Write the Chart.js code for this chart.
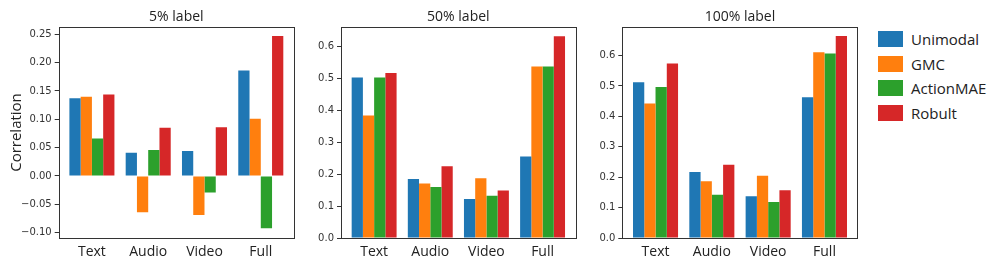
<!DOCTYPE html>
<html>
<head>
<meta charset="utf-8">
<script src="https://cdn.jsdelivr.net/npm/chart.js@4/dist/chart.umd.min.js"></script>
<style>
  body { margin: 0; background: #fff; }
  #wrap { position: relative; width: 997px; height: 272px; overflow: hidden; }
  .panel { position: absolute; top: 0; height: 272px; }
  .legend { position: absolute; left: 878px; top: 31px; font-family: 'Open Sans', sans-serif; font-size: 15px; color: #222; }
  .legend .row { display: flex; align-items: center; height: 16px; margin-bottom: 8.7px; }
  .legend .box { width: 25px; height: 16px; margin-right: 8px; }
</style>
</head>
<body>
<div id="wrap">
  <div class="panel" style="left:0;width:300px"><canvas id="c1"></canvas></div>
  <div class="panel" style="left:300px;width:290px"><canvas id="c2"></canvas></div>
  <div class="panel" style="left:590px;width:280px"><canvas id="c3"></canvas></div>
  <div class="legend" id="legend"></div>
</div>
<script>
// --- data ---
const categories = ['Text', 'Audio', 'Video', 'Full'];
const seriesNames = ['Unimodal', 'GMC', 'ActionMAE', 'Robult'];
const seriesColors = ['#1f77b4', '#ff7f0e', '#2ca02c', '#d62728'];

// 5% label
const unimodal5 = [0.137, 0.041, 0.044, 0.186];
const gmc5 = [0.140, -0.064, -0.069, 0.101];
const actionmae5 = [0.066, 0.046, -0.029, -0.092];
const robult5 = [0.144, 0.085, 0.086, 0.247];

// 50% label
const unimodal50 = [0.503, 0.185, 0.122, 0.255];
const gmc50 = [0.384, 0.171, 0.187, 0.537];
const actionmae50 = [0.503, 0.160, 0.132, 0.537];
const robult50 = [0.517, 0.225, 0.149, 0.632];

// 100% label
const unimodal100 = [0.512, 0.217, 0.137, 0.463];
const gmc100 = [0.442, 0.187, 0.205, 0.611];
const actionmae100 = [0.497, 0.142, 0.118, 0.607];
const robult100 = [0.574, 0.241, 0.157, 0.664];

const panelTitles = ['5% label', '50% label', '100% label'];

/* --- helpers --- */
const frameAndTitle = {
    id: 'frameAndTitle',
    afterDraw(chart) {
        const a = chart.chartArea;
        const ctx = chart.ctx;
        ctx.save();
        ctx.strokeStyle = '#333';
        ctx.lineWidth = 1;
        ctx.strokeRect(Math.round(a.left) + 0.5, Math.round(a.top) + 0.5,
            Math.round(a.right - a.left), Math.round(a.bottom - a.top));
        ctx.fillStyle = '#222';
        ctx.font = "14px 'Open Sans'";
        ctx.textAlign = 'center';
        ctx.textBaseline = 'alphabetic';
        ctx.fillText(chart.options.panelTitle, (a.left + a.right) / 2, a.top - 6);
        if (chart.options.yLabel) {
            ctx.translate(17, (a.top + a.bottom) / 2);
            ctx.rotate(-Math.PI / 2);
            ctx.textBaseline = 'middle';
            ctx.font = "15px 'Open Sans'";
            ctx.fillText(chart.options.yLabel, 0, 0);
        }
        ctx.restore();
    }
};

function fmtTick(v, digits) {
    return v.toFixed(digits).replace('-', '\u2212');
}

function makeChart(id, seriesData, title, yMin, yMax, step, digits, yWidth, padRight, yLabel) {
    const ctx = document.getElementById(id).getContext('2d');
    return new Chart(ctx, {
        type: 'bar',
        data: {
            datasets: seriesData.map((vals, s) => ({
                label: seriesNames[s],
                data: vals.map((v, i) => ({ x: i, y: v })),
                backgroundColor: seriesColors[s],
                borderWidth: 0,
                categoryPercentage: 0.8,
                barPercentage: 1.0
            }))
        },
        options: {
            responsive: true,
            maintainAspectRatio: false,
            animation: false,
            panelTitle: title,
            yLabel: yLabel,
            layout: { padding: { top: 27, right: padRight, left: 0, bottom: 0 } },
            plugins: { legend: { display: false }, tooltip: { enabled: false } },
            scales: {
                x: {
                    type: 'linear',
                    min: -0.59,
                    max: 3.59,
                    offset: false,
                    grid: { display: false, drawTicks: false },
                    border: { display: false },
                    afterBuildTicks: scale => { scale.ticks = categories.map((c, i) => ({ value: i })); },
                    afterFit: scale => { scale.height = 34; },
                    ticks: {
                        autoSkip: false,
                        maxRotation: 0,
                        padding: 6,
                        color: '#222',
                        font: { family: "'Open Sans'", size: 14 },
                        callback: v => categories[v]
                    }
                },
                y: {
                    min: yMin,
                    max: yMax,
                    grid: { display: true, drawOnChartArea: false, drawTicks: true, tickLength: 4, color: '#333' },
                    border: { display: false },
                    afterFit: scale => { scale.width = yWidth; },
                    ticks: {
                        stepSize: step,
                        includeBounds: false,
                        padding: 3,
                        color: '#333',
                        font: { family: "'DejaVu Sans'", size: 10 },
                        callback: v => fmtTick(v, digits)
                    }
                }
            }
        },
        plugins: [frameAndTitle]
    });
}

window.onload = function () {
    makeChart('c1', [unimodal5, gmc5, actionmae5, robult5], panelTitles[0],
        -0.1094, 0.2629, 0.05, 2, 58.7, 6, 'Correlation');
    makeChart('c2', [unimodal50, gmc50, actionmae50, robult50], panelTitles[1],
        0, 0.661, 0.1, 1, 41, 14.3, null);
    makeChart('c3', [unimodal100, gmc100, actionmae100, robult100], panelTitles[2],
        0, 0.694, 0.1, 1, 32.3, 12.3, null);

    const legend = document.getElementById('legend');
    seriesNames.forEach((name, i) => {
        const row = document.createElement('div');
        row.className = 'row';
        row.innerHTML = `<div class="box" style="background:${seriesColors[i]}"></div><span>${name}</span>`;
        legend.appendChild(row);
    });
};
</script>
</body>
</html>
